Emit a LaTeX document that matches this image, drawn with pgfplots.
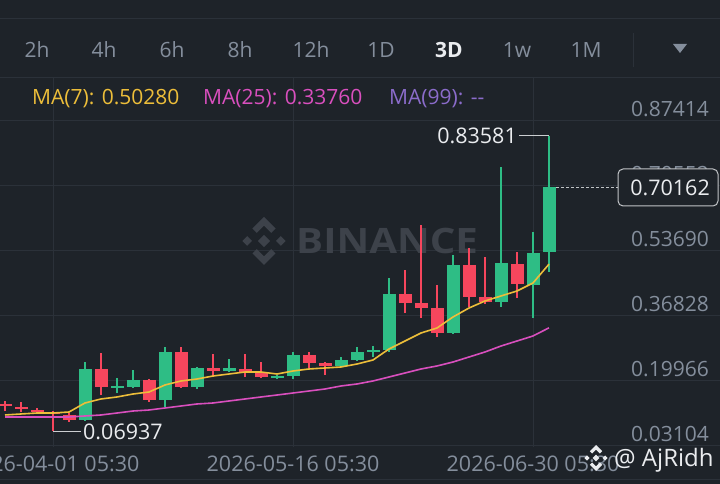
\documentclass[border=0pt]{standalone}
\usepackage{pgfplots}
\pgfplotsset{compat=1.18}
\usepackage{pgfplotstable}
\usepackage{fontspec}
\setmainfont{Open Sans}

\definecolor{bg}{HTML}{1E2329}
\definecolor{gridc}{HTML}{2B3139}
\definecolor{txt}{HTML}{848E9C}
\definecolor{hi}{HTML}{EAECEF}
\definecolor{upc}{HTML}{2EBD85}
\definecolor{dnc}{HTML}{F6465D}
\definecolor{ma7}{HTML}{EDBE3A}
\definecolor{ma25}{HTML}{D94FBE}
\definecolor{ma99}{HTML}{8B6CCB}
\definecolor{wm}{HTML}{3D424A}

\newcommand\fs[1]{\fontsize{#1}{#1}\selectfont}

% 3D candles, k = 0 is 2026-04-01 05:30
\pgfplotstableread{
k  O      H       L       C
2  0.0985 0.2489  0.0959  0.2308
4  0.1815 0.2074  0.1685  0.1867
5  0.1841 0.2282  0.1815  0.2022
7  0.1504 0.2879  0.1322  0.2749
9  0.1841 0.2360  0.1789  0.2334
11 0.2256 0.2567  0.2230  0.2334
14 0.2074 0.2152  0.2048  0.2126
15 0.2126 0.2749  0.2048  0.2671
18 0.2386 0.2619  0.2360  0.2541
19 0.2541 0.2879  0.2515  0.2749
20 0.2749 0.2904  0.2619  0.2801
21 0.2801 0.4668  0.2749  0.4253
25 0.3242 0.5265  0.3216  0.5006
28 0.4046 0.7548  0.3916  0.5057
30 0.4487 0.5862  0.3631  0.5317
31 0.5343 0.83581 0.4824  0.70162
}\upc

\pgfplotstableread{
k  O      H      L       C
-3 0.1400 0.1478 0.1218  0.1348
-2 0.1322 0.1452 0.1192  0.1270
-1 0.1244 0.1296 0.1166  0.1192
0  0.1192 0.1218 0.06937 0.1141
1  0.1115 0.1166 0.0933  0.0985
3  0.2308 0.2723 0.1633  0.1841
6  0.2022 0.2048 0.1452  0.1504
8  0.2749 0.2879 0.1815  0.1841
10 0.2334 0.2697 0.2100  0.2256
12 0.2308 0.2697 0.2100  0.2204
13 0.2204 0.2489 0.2074  0.2100
16 0.2671 0.2749 0.2334  0.2463
17 0.2463 0.2489 0.2152  0.2386
22 0.4253 0.4876 0.3760  0.4020
23 0.4020 0.6043 0.3631  0.3890
24 0.3890 0.4487 0.3138  0.3242
26 0.5006 0.5447 0.3916  0.4176
27 0.4176 0.5213 0.3994  0.4046
29 0.5032 0.5343 0.4150  0.4513
}\dnc

\pgfplotstableread{
k  ma7    ma25
-3 0.1115 0.1063
-2 0.1141 0.1063
-1 0.1166 0.1063
0  0.1166 0.1063
1  0.1192 0.1063
2  0.1426 0.1089
3  0.1530 0.1115
4  0.1582 0.1166
5  0.1659 0.1218
6  0.1711 0.1244
7  0.1893 0.1296
8  0.1997 0.1348
9  0.2048 0.1400
10 0.2126 0.1426
11 0.2178 0.1478
12 0.2230 0.1530
13 0.2230 0.1582
14 0.2178 0.1633
15 0.2256 0.1685
16 0.2308 0.1737
17 0.2334 0.1789
18 0.2360 0.1867
19 0.2437 0.1919
20 0.2541 0.1997
21 0.2827 0.2100
22 0.3034 0.2204
23 0.3242 0.2308
24 0.3371 0.2386
25 0.3657 0.2489
26 0.3890 0.2619
27 0.4072 0.2749
28 0.4202 0.2904
29 0.4331 0.3034
30 0.4539 0.3164
31 0.50280 0.33760
}\mas

\newcommand\binlogo[4]{%
  \begin{scope}[shift={(#1,#2)}, scale=#3]
    \fill[#4] (0,0.26) -- (0.26,0) -- (0,-0.26) -- (-0.26,0) -- cycle;
    \fill[#4] (0.7,0.2) -- (0.9,0) -- (0.7,-0.2) -- (0.5,0) -- cycle;
    \fill[#4] (-0.7,0.2) -- (-0.5,0) -- (-0.7,-0.2) -- (-0.9,0) -- cycle;
    \fill[#4] (0,1) -- (0.48,0.52) -- (0.3,0.34) -- (0,0.64) -- (-0.3,0.34) -- (-0.48,0.52) -- cycle;
    \fill[#4] (0,-1) -- (0.48,-0.52) -- (0.3,-0.34) -- (0,-0.64) -- (-0.3,-0.34) -- (-0.48,-0.52) -- cycle;
  \end{scope}}

\begin{document}
\begin{tikzpicture}[x=1pt,y=1pt]
\useasboundingbox (0,0) rectangle (720,484);
\clip (0,0) rectangle (720,484);
\fill[bg] (0,0) rectangle (720,484);

% pixel frame: origin top left
\begin{scope}[shift={(0,484)}, y=-1pt]
  \draw[gridc, line width=1] (0,19) -- (720,19);
  \draw[gridc, line width=1] (0,77.5) -- (720,77.5);
  \draw[gridc, line width=1] (0,480) -- (720,480);
  \foreach \g in {120.5,186,251,316,381,446}
    \draw[gridc, line width=1] (0,\g) -- (720,\g);
  \foreach \v in {53,293,533}
    \draw[gridc, line width=1] (\v,78) -- (\v,447);
  % watermark
  \binlogo{264}{241}{24}{wm}
  \node[anchor=base west, wm, font=\fs{35}\bfseries, inner sep=0] at (296,254)
    {\scalebox{1.15}[1]{BINANCE}};
\end{scope}

\begin{axis}[at={(0,0)}, anchor=south west, scale only axis,
    width=720pt, height=484pt,
    xmin=-3.3125, xmax=41.6875, ymin=-0.06753, ymax=1.18796,
    hide axis, clip=true]
  % wicks
  \addplot[draw=none, mark=none, forget plot,
    error bars/.cd, y dir=plus, y explicit, error mark=none,
    error bar style={draw=upc, line width=1.6pt}]
    table[x=k, y=L, y error plus expr=\thisrow{H}-\thisrow{L}] {\upc};
  \addplot[draw=none, mark=none, forget plot,
    error bars/.cd, y dir=plus, y explicit, error mark=none,
    error bar style={draw=dnc, line width=1.6pt}]
    table[x=k, y=L, y error plus expr=\thisrow{H}-\thisrow{L}] {\dnc};
  % bodies
  \addplot[draw=none, mark=none, forget plot,
    error bars/.cd, y dir=plus, y explicit, error mark=none,
    error bar style={draw=upc, line width=13pt}]
    table[x=k, y=O, y error plus expr=\thisrow{C}-\thisrow{O}] {\upc};
  \addplot[draw=none, mark=none, forget plot,
    error bars/.cd, y dir=plus, y explicit, error mark=none,
    error bar style={draw=dnc, line width=13pt}]
    table[x=k, y=C, y error plus expr=\thisrow{O}-\thisrow{C}] {\dnc};
  % moving averages
  \addplot[ma25, line width=1.6pt, mark=none] table[x=k, y=ma25] {\mas};
  \addplot[ma7, line width=1.6pt, mark=none] table[x=k, y=ma7] {\mas};
\end{axis}

\begin{scope}[shift={(0,484)}, y=-1pt]
  % timeframe bar
  \foreach \x/\t in {37/2h,104/4h,172/6h,240/8h,311/12h,381/1D,517/1w,586/1M}
    \node[anchor=base, txt, font=\fs{21}, inner sep=0] at (\x,58) {\t};
  \node[anchor=base, hi, font=\fs{21}\bfseries, inner sep=0] at (449,58) {3D};
  \draw[gridc, line width=1] (633,33) -- (633,67);
  \fill[txt] (673,44) -- (687,44) -- (680,53) -- cycle;

  % MA legend
  \node[anchor=base west, ma7, font=\fs{21}, inner sep=0] at (32,105) {MA(7): 0.50280};
  \node[anchor=base west, ma25, font=\fs{21}, inner sep=0] at (203,105) {MA(25): 0.33760};
  \node[anchor=base west, ma99, font=\fs{21}, inner sep=0] at (389,105) {MA(99): -{}-};

  % price scale
  \foreach \g/\t in {120.5/0.87414,186/0.70552,251/0.53690,316/0.36828,381/0.19966,446/0.03104}
    \node[anchor=base east, txt, font=\fs{21}, inner sep=0] at (709,\g-4) {\t};

  % last price
  \draw[hi!80!bg, line width=0.9, dash pattern=on 3pt off 2pt] (556,187.5) -- (618,187.5);
  \draw[hi!80!bg, line width=1, rounded corners=5, fill=bg] (618,169) rectangle (718,206);
  \node[anchor=base east, hi, font=\fs{21.5}, inner sep=0] at (710,196) {0.70162};

  % high / low markers
  \draw[hi!85!bg, line width=1] (519,136) -- (549,136);
  \node[anchor=base east, hi, font=\fs{21.5}, inner sep=0] at (517,144) {0.83581};
  \draw[hi!85!bg, line width=1] (53,431.5) -- (81,431.5);
  \node[anchor=base west, hi, font=\fs{21.5}, inner sep=0] at (83,440) {0.06937};

  % dates
  \foreach \x/\t in {53/2026-04-01 05:30,293/2026-05-16 05:30,533/2026-06-30 05:30}
    \node[anchor=base, txt, font=\fs{21.5}, inner sep=0] at (\x,472) {\t};

  % signature
  \binlogo{596}{458}{13}{hi}
  \node[anchor=base west, hi, font=\fs{24}, inner sep=0] at (614,467) {@ AjRidh};
\end{scope}
\end{tikzpicture}
\end{document}
